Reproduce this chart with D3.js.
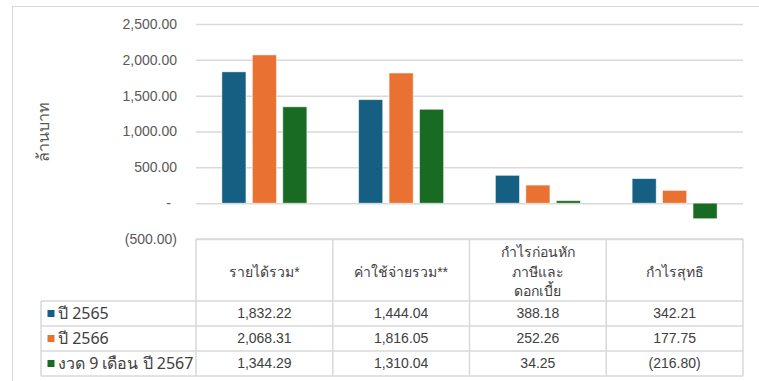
<!DOCTYPE html>
<html><head><meta charset="utf-8">
<script src="https://cdn.jsdelivr.net/npm/d3@7"></script>
<style>body{margin:0;background:#fff}svg{display:block}</style>
</head><body><svg id="c" width="759" height="381"></svg>
<script>
const categories = [["รายได้รวม*"], ["ค่าใช้จ่ายรวม**"], ["กำไรก่อนหัก","ภาษีและ","ดอกเบี้ย"], ["กำไรสุทธิ"]];
const seriesNames = ["ปี 2565", "ปี 2566", "งวด 9 เดือน ปี 2567"];
const y2565 = [1832.22, 1444.04, 388.18, 342.21];
const y2566 = [2068.31, 1816.05, 252.26, 177.75];
const y2567 = [1344.29, 1310.04, 34.25, -216.80];
const yTicks = [-500, 0, 500, 1000, 1500, 2000, 2500];
const colors = ["#156082", "#E97132", "#196B24"];
const series = [y2565, y2566, y2567];

(function () {
const svg = d3.select("#c");
const fontNum = "'Liberation Sans', Arial, sans-serif";
const fmt = d3.format(",.2f");
const fmtV = v => v === 0 ? "-" : v < 0 ? "(" + fmt(-v) + ")" : fmt(v);

svg.append("rect").attr("x", 12.5).attr("y", 6.5).attr("width", 760).attr("height", 390)
  .attr("fill", "none").attr("stroke", "#d9d9d9");

const pL = 196, pR = 743, pT = 24, pB = 239;
const x = d3.scaleBand().domain(d3.range(categories.length)).range([pL, pR]);
const y = d3.scaleLinear().domain([-500, 2500]).range([pB, pT]);
const xs = d3.scaleBand().domain(d3.range(3)).range([0, x.bandwidth()]).paddingInner(0.21).paddingOuter(0.85);

const ax = svg.append("g").attr("transform", `translate(${pL},0)`)
  .call(d3.axisLeft(y).tickValues(yTicks).tickSize(-(pR - pL)).tickPadding(19).tickFormat(fmtV));
ax.select(".domain").remove();
ax.selectAll(".tick line").attr("stroke", "#d9d9d9").attr("stroke-width", 1.5);
ax.selectAll(".tick text").attr("fill", "#595959").style("font-family", fontNum).style("font-size", "14px");
ax.selectAll(".tick text").filter(d => d === 0).attr("dx", -6);

series.forEach((vals, si) => {
  svg.append("g").selectAll("rect").data(vals).join("rect")
    .attr("x", (d, i) => x(i) + xs(si))
    .attr("width", xs.bandwidth())
    .attr("y", d => y(Math.max(0, d)))
    .attr("height", d => Math.abs(y(d) - y(0)))
    .attr("fill", colors[si])
    .attr("stroke", "#ffffff").attr("stroke-opacity", 0.6).attr("stroke-width", 0.8);
});

svg.append("text").attr("transform", "translate(45,132) rotate(-90)")
  .attr("text-anchor", "middle").attr("dominant-baseline", "middle")
  .attr("fill", "#595959").style("font-family", fontNum).style("font-size", "16px").text("ล้านบาท");

const tTop = 239, hdrBot = 301, rowH = 25, legL = 41;
const rowY = i => hdrBot + i * rowH;
const tb = svg.append("g");
const line = (x1, y1, x2, y2) => tb.append("line").attr("x1", x1).attr("y1", y1).attr("x2", x2).attr("y2", y2)
  .attr("stroke", "#d9d9d9").attr("stroke-width", 1.5);
line(pL, tTop, pR, tTop);
for (let i = 0; i <= 3; i++) line(legL, rowY(i), pR, rowY(i));
line(legL, hdrBot, legL, rowY(3));
for (let i = 0; i <= categories.length; i++) line(pL + i * x.bandwidth(), tTop, pL + i * x.bandwidth(), rowY(3));

categories.forEach((lines, i) => {
  const cx = x(i) + x.bandwidth() / 2, cy = (tTop + hdrBot) / 2 + 3;
  const lh = 19.5;
  lines.forEach((t, j) => {
    tb.append("text").attr("x", cx).attr("y", cy + (j - (lines.length - 1) / 2) * lh)
      .attr("text-anchor", "middle").attr("dominant-baseline", "middle")
      .attr("fill", "#404040").style("font-family", fontNum).style("font-size", "14px").text(t);
  });
});
series.forEach((vals, si) => {
  const cy = rowY(si) + rowH / 2 + 1;
  tb.append("rect").attr("x", 47.5).attr("y", cy - 4.5).attr("width", 7).attr("height", 7).attr("fill", colors[si]);
  tb.append("text").attr("x", 58).attr("y", cy).attr("dominant-baseline", "middle")
    .attr("fill", "#404040").style("font-family", "'Noto Sans', sans-serif").style("font-size", "16px").text(seriesNames[si]);
  vals.forEach((v, i) => {
    tb.append("text").attr("x", x(i) + x.bandwidth() / 2).attr("y", cy).attr("text-anchor", "middle")
      .attr("dominant-baseline", "middle").attr("fill", "#404040").style("font-family", fontNum).style("font-size", "14px")
      .text(fmtV(v));
  });
});
})();
</script></body></html>
